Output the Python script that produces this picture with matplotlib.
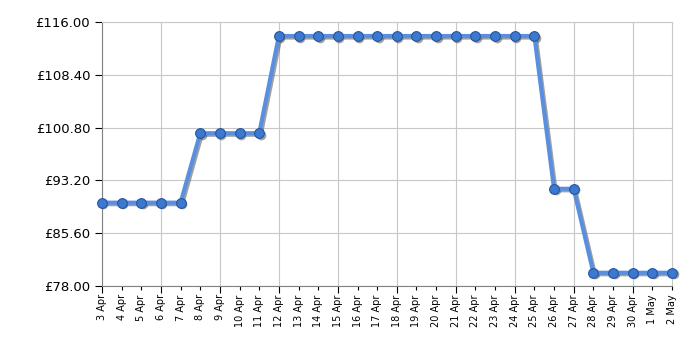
import matplotlib
matplotlib.use("Agg")
import matplotlib.pyplot as plt
import matplotlib.transforms as mtransforms
import numpy as np

dates = ["3 Apr", "4 Apr", "5 Apr", "6 Apr", "7 Apr", "8 Apr", "9 Apr", "10 Apr",
         "11 Apr", "12 Apr", "13 Apr", "14 Apr", "15 Apr", "16 Apr", "17 Apr",
         "18 Apr", "19 Apr", "20 Apr", "21 Apr", "22 Apr", "23 Apr", "24 Apr",
         "25 Apr", "26 Apr", "27 Apr", "28 Apr", "29 Apr", "30 Apr", "1 May", "2 May"]
prices = [89.99, 89.99, 89.99, 89.99, 89.99,
          99.99, 99.99, 99.99, 99.99,
          113.99, 113.99, 113.99, 113.99, 113.99, 113.99, 113.99,
          113.99, 113.99, 113.99, 113.99, 113.99, 113.99, 113.99,
          91.99, 91.99,
          79.9, 79.9, 79.9, 79.9, 79.9]
y_ticks = [78.00, 85.60, 93.20, 100.80, 108.40, 116.00]

fig = plt.figure(figsize=(7, 3.5), dpi=100)
ax = fig.add_axes([0.1457, 0.183, 0.8143, 0.754])

x = np.arange(len(dates))
shadow_tr = mtransforms.offset_copy(ax.transData, fig=fig, x=1.5, y=-1.5, units="dots")
ax.plot(x, prices, color="#555555", alpha=0.55, lw=3, marker="o", ms=7, mew=0,
        transform=shadow_tr, zorder=2, clip_on=False)
ax.plot(x, prices, color="#5a8fe0", lw=3, zorder=3, clip_on=False)
ax.plot(x, prices, linestyle="none", marker="o", ms=7, mfc="#3d78d0", mec="#24559e",
        mew=0.8, zorder=4, clip_on=False)

ax.set_xlim(0, len(dates) - 1)
ax.set_ylim(78, 116)
ax.set_yticks(y_ticks)
ax.set_yticklabels([f"£{v:.2f}" for v in y_ticks], fontsize=9.5)
ax.set_xticks(x)
ax.set_xticklabels(dates, rotation=90, fontsize=7)
ax.tick_params(axis="x", length=3, color="black", direction="out", pad=3)
for i, t in enumerate(ax.xaxis.get_major_ticks()):
    if i % 3 == 0:
        t.tick1line.set_markersize(5)
ax.tick_params(axis="y", length=5, color="black", direction="out")
ax.grid(True, axis="y", color="#c8c8c8", lw=0.8)
for xv in x[::3]:
    ax.axvline(xv, color="#c8c8c8", lw=0.8, zorder=0)
ax.set_axisbelow(True)
for s in ["left", "bottom"]:
    ax.spines[s].set_color("#808080")
for s in ["top", "right"]:
    ax.spines[s].set_color("#c8c8c8")

fig.savefig("out.png", dpi=100)
